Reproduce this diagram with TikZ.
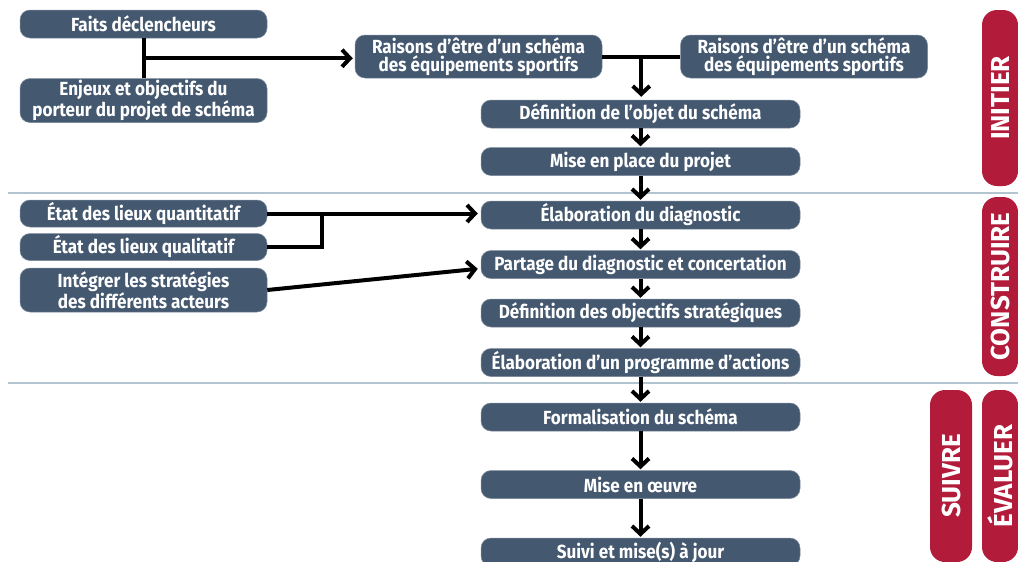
\documentclass[tikz,border=0pt]{standalone}
\usepackage{fontspec}
\setmainfont{Fira Sans}[FakeStretch=0.9]
\newfontfamily\phasefont{Fira Sans}
\usepackage{tikz}
\usetikzlibrary{arrows.meta,positioning,calc}
\definecolor{boxblue}{RGB}{68,88,112}
\definecolor{phasered}{RGB}{178,27,58}
\definecolor{sepline}{RGB}{178,196,208}

\begin{document}
\begin{tikzpicture}[x=1pt,y=-1pt,>={Straight Barb[length=8pt,width=17pt]}]
    \tikzset{etape/.style= {fill=boxblue, draw=boxblue!70!white, line width=.5pt, rounded corners=10pt, text=white, inner sep=0pt, align=center, minimum height=28pt, font={\fontsize{19}{18}\selectfont\bfseries}} }
    \tikzset{large/.style= {etape, minimum width=319pt} }
    \tikzset{small/.style= {etape, minimum width=247pt} }
    \tikzset{phase/.style= {fill=phasered, rounded corners=15pt, text=white, inner sep=0pt, rotate=90, minimum height=36pt, font={\phasefont\fontsize{26}{26}\selectfont\bfseries}} }
    \tikzset{lien/.style= {draw, line width=4pt} }

    \useasboundingbox[fill=white] (0,0) rectangle (1018,562);

    \draw[sepline, line width=2.5pt] (8,193) -- (1018,193);
    \draw[sepline, line width=2.5pt] (8,383) -- (1018,383);

    \node[small] (faits) at (143.5,24) {Faits déclencheurs};
    \node[small, minimum height=44pt] (enjeux) [below= 40pt of faits] {Enjeux et objectifs du\\porteur du projet de schéma};

    \node[small, minimum height=43pt] (raisA) at (478.5,56.5) {Raisons d'être d'un schéma\\des équipements sportifs};
    \node[small, minimum height=43pt] (raisB) [right= 78pt of raisA] {Raisons d'être d'un schéma\\des équipements sportifs};

    \node[large] (objet) at (640.5,114) {Définition de l'objet du schéma};
    \node[large] (projet) [below= 19pt of objet] {Mise en place du projet};
    \node[large] (diag) [below= 25pt of projet] {Élaboration du diagnostic};
    \node[large] (partage) [below= 21pt of diag] {Partage du diagnostic et concertation};
    \node[large] (objstrat) [below= 20pt of partage] {Définition des objectifs stratégiques};
    \node[large] (programme) [below= 21pt of objstrat] {Élaboration d'un programme d'actions};
    \node[large] (formal) [below= 26pt of programme] {Formalisation du schéma};
    \node[large] (oeuvre) [below= 39pt of formal] {Mise en œuvre};
    \node[large] (suivi) [below= 39pt of oeuvre] {Suivi et mise(s) à jour};

    \node[small, minimum height=27pt] (quanti) at (143.5,213.5) {État des lieux quantitatif};
    \node[small, minimum height=27pt] (quali) [below= 6pt of quanti] {État des lieux qualitatif};
    \node[small, minimum height=44pt] (acteurs) [below= 7pt of quali] {Intégrer les stratégies\\des différents acteurs};

    \node[phase, minimum width=176pt] (initier) at (1000,98) {INITIER};
    \node[phase, minimum width=179pt] (construire) at (1000,286.5) {CONSTRUIRE};
    \node[phase, minimum width=172pt, minimum height=42pt] (suivre) at (951,476) {SUIVRE};
    \node[phase, minimum width=172pt] (evaluer) at (1000,476) {ÉVALUER};

    \coordinate (j1) at ($(faits.south)!.5!(enjeux.north)$);
    \coordinate (j2) at ($(raisA.east)!.5!(raisB.west)$);
    \coordinate (crochet) at (322,213.5);

    \path[lien] (faits) -- (enjeux);
    \path[lien, ->, shorten >=2pt] (j1) -- (j1 -| raisA.west);
    \path[lien] (raisA) -- (raisB);
    \path[lien, ->, shorten >=3pt] (j2) -- (j2 |- objet.north);

    \path[lien, ->, shorten >=1pt] (objet) -- (projet);
    \path[lien, ->, shorten >=1pt] (projet) -- (diag);
    \path[lien, ->, shorten >=1pt] (diag) -- (partage);
    \path[lien, ->, shorten >=1pt] (partage) -- (objstrat);
    \path[lien, ->, shorten >=1pt] (objstrat) -- (programme);
    \path[lien, ->, shorten >=1pt] (programme) -- (formal);
    \path[lien, ->, shorten >=1pt] (formal) -- (oeuvre);
    \path[lien, ->, shorten >=1pt] (oeuvre) -- (suivi);

    \path[lien] (quanti.east) -- (crochet) |- (quali.east);
    \path[lien, ->, shorten >=3pt] (crochet) -- (crochet -| diag.west);
    \path[lien, ->, shorten >=3pt] (acteurs.east) -- ([yshift=-4pt]partage.west);
\end{tikzpicture}
\end{document}
